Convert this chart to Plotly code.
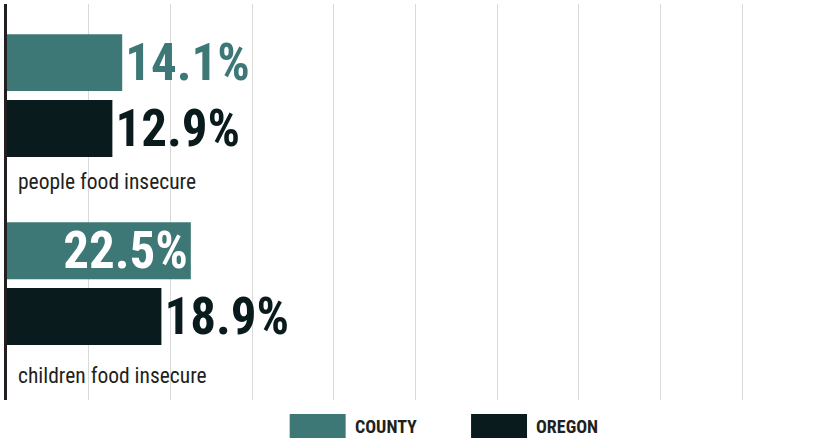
import plotly.graph_objects as go

categories = ["people food insecure", "children food insecure"]
series_names = ["COUNTY", "OREGON"]
county_values = [14.1, 22.5]
oregon_values = [12.9, 18.9]
series_values = [county_values, oregon_values]
series_colors = ["#3d7876", "#0a1b1e"]
# label placement per bar (county: outside / inside, oregon: outside / outside)
label_positions = [["outside", "inside"], ["outside", "outside"]]
label_offsets = [-86, -92]

FONT = "Roboto Condensed, Open Sans, sans-serif"

fig = go.Figure()
for name, vals, col, pos in zip(series_names, series_values, series_colors, label_positions):
    fig.add_trace(go.Bar(
        y=categories, x=vals, name=name, orientation="h",
        marker=dict(color=col, line=dict(width=0)),
        text=[f"{v:.1f}%" for v in vals],
        textposition=pos,
        insidetextanchor="end",
        constraintext="none",
        cliponaxis=False,
        insidetextfont=dict(family=FONT, size=51, color="white", weight="bold"),
        outsidetextfont=dict(family=FONT, size=51, color=col, weight="bold"),
        showlegend=False,
        hoverinfo="skip",
    ))

# category labels below each group
for cat, off in zip(categories, label_offsets):
    fig.add_annotation(
        x=0, y=cat, xref="x", yref="y", text=cat, showarrow=False,
        xanchor="left", yanchor="middle", xshift=9, yshift=off,
        font=dict(family=FONT, size=21.5, color="#231f20"),
    )

# custom legend (wide swatches) centred below the plot
legend_x = [0.346, 0.568]
for name, col, lx in zip(series_names, series_colors, legend_x):
    fig.add_shape(type="rect", xref="paper", yref="paper",
                  x0=lx, x1=lx + 0.0685, y0=-0.0354, y1=-0.096,
                  fillcolor=col, line=dict(width=0))
    fig.add_annotation(x=lx + 0.077, y=-0.066, xref="paper", yref="paper",
                       text=name, showarrow=False, xanchor="left", yanchor="middle",
                       font=dict(family=FONT, size=18, color="#231f20", weight="bold"))

fig.update_layout(
    width=824, height=440,
    margin=dict(l=7, r=0, t=4, b=40),
    paper_bgcolor="white", plot_bgcolor="white",
    barmode="group", bargap=0.30, bargroupgap=0.136,
    xaxis=dict(range=[0, 100], dtick=10, showgrid=True, gridcolor="#d9d9d9", gridwidth=1,
               showticklabels=False, zeroline=False, showline=False, ticks=""),
    yaxis=dict(type="category", categoryorder="array", categoryarray=categories,
               range=[1.619, -0.487], showgrid=False, showticklabels=False,
               showline=True, linecolor="#231f20", linewidth=2.5, ticks="", zeroline=False),
    showlegend=False,
)

fig.write_html("out.html", config={"displayModeBar": False},
               post_script="document.body.style.margin='0';")
